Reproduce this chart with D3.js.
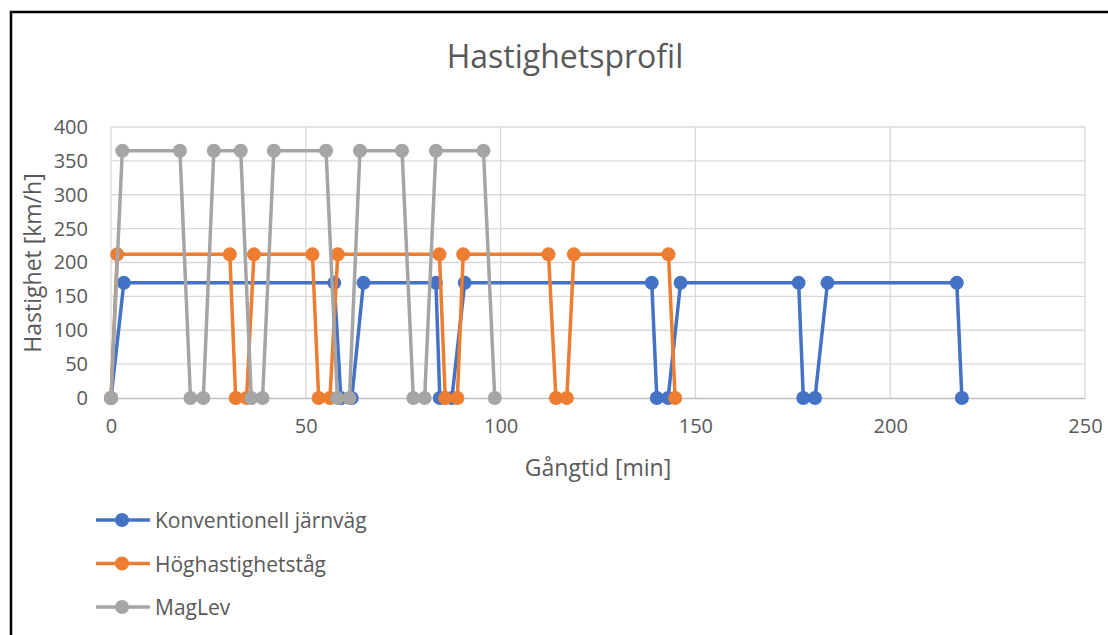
<!DOCTYPE html>
<html>
<head>
<meta charset="utf-8">
<script src="https://cdn.jsdelivr.net/npm/d3@7"></script>
<style>
  html, body { margin: 0; padding: 0; background: #fff; }
  svg { display: block; font-family: "Open Sans", sans-serif; }
</style>
</head>
<body>
<svg id="chart" width="1108" height="635"></svg>
<script>
// Speed profiles: running time (min) against speed (km/h)
const seriesNames = ["Konventionell järnväg", "Höghastighetståg", "MagLev"];
const seriesColors = ["#4472C4", "#ED7D31", "#A5A5A5"];

const konvTime = [0, 3.3, 57.3, 59.0, 61.8, 64.8, 83.4, 84.4, 87.5, 90.8, 138.8, 140.1, 143.0, 146.2, 176.5, 177.7, 180.7, 183.9, 217.1, 218.4];
const konvSpeed = [0, 170, 170, 0, 0, 170, 170, 0, 0, 170, 170, 0, 0, 170, 170, 0, 0, 170, 170, 0];

const hstTime = [0, 1.6, 30.5, 32.0, 34.8, 36.7, 51.7, 53.3, 56.2, 58.2, 84.3, 85.8, 88.9, 90.4, 112.3, 114.2, 117.0, 118.8, 143.1, 144.8];
const hstSpeed = [0, 212, 212, 0, 0, 212, 212, 0, 0, 212, 212, 0, 0, 212, 212, 0, 0, 212, 212, 0];

const maglevTime = [0, 2.9, 17.7, 20.4, 23.7, 26.4, 33.3, 36.0, 38.9, 41.8, 55.2, 58.1, 61.2, 63.9, 74.7, 77.6, 80.5, 83.4, 95.6, 98.5];
const maglevSpeed = [0, 365, 365, 0, 0, 365, 365, 0, 0, 365, 365, 0, 0, 365, 365, 0, 0, 365, 365, 0];

const xTicks = [0, 50, 100, 150, 200, 250];
const yTicks = [0, 50, 100, 150, 200, 250, 300, 350, 400];

const series = [
  { name: seriesNames[0], color: seriesColors[0], pts: konvTime.map((t, i) => [t, konvSpeed[i]]) },
  { name: seriesNames[1], color: seriesColors[1], pts: hstTime.map((t, i) => [t, hstSpeed[i]]) },
  { name: seriesNames[2], color: seriesColors[2], pts: maglevTime.map((t, i) => [t, maglevSpeed[i]]) }
];

const svg = d3.select("#chart");
const textColor = "#595959";

// chart frame
svg.append("rect")
  .attr("x", 11).attr("y", 12)
  .attr("width", 1120).attr("height", 640)
  .attr("fill", "#fff").attr("stroke", "#000").attr("stroke-width", 2.5);

const plot = { left: 111, right: 1085, top: 127, bottom: 398 };
const x = d3.scaleLinear().domain([0, 250]).range([plot.left, plot.right]);
const y = d3.scaleLinear().domain([0, 400]).range([plot.bottom, plot.top]);

// gridlines
const grid = svg.append("g");
grid.selectAll("line.h").data(yTicks.filter(v => v > 0)).join("line")
  .attr("x1", plot.left).attr("x2", plot.right)
  .attr("y1", d => y(d)).attr("y2", d => y(d))
  .attr("stroke", "#d9d9d9").attr("stroke-width", 1.3);
grid.selectAll("line.v").data(xTicks).join("line")
  .attr("x1", d => x(d)).attr("x2", d => x(d))
  .attr("y1", plot.top).attr("y2", plot.bottom)
  .attr("stroke", "#d9d9d9").attr("stroke-width", 1.3);

// axes
const xAxis = svg.append("g").attr("transform", `translate(0,${plot.bottom})`)
  .call(d3.axisBottom(x).tickValues(xTicks).tickSize(0).tickPadding(21));
xAxis.select(".domain").attr("stroke", "#bfbfbf").attr("stroke-width", 1.5);
xAxis.selectAll("text").attr("fill", textColor).attr("font-size", 20).attr("font-family", "Open Sans, sans-serif");

const yAxis = svg.append("g").attr("transform", `translate(${plot.left},0)`)
  .call(d3.axisLeft(y).tickValues(yTicks).tickSize(0).tickPadding(23));
yAxis.select(".domain").remove();
yAxis.selectAll("text").attr("fill", textColor).attr("font-size", 20).attr("font-family", "Open Sans, sans-serif");

// series lines and markers
const line = d3.line().x(d => x(d[0])).y(d => y(d[1]));
series.forEach(s => {
  const g = svg.append("g");
  g.append("path").datum(s.pts).attr("d", line)
    .attr("fill", "none").attr("stroke", s.color)
    .attr("stroke-width", 3.5).attr("stroke-linejoin", "round");
  g.selectAll("circle").data(s.pts).join("circle")
    .attr("cx", d => x(d[0])).attr("cy", d => y(d[1])).attr("r", 7)
    .attr("fill", s.color);
});

// titles
svg.append("text").attr("x", 565).attr("y", 68).attr("text-anchor", "middle")
  .attr("font-size", 32).attr("fill", textColor).text("Hastighetsprofil");
svg.append("text").attr("x", 598).attr("y", 476).attr("text-anchor", "middle")
  .attr("font-size", 23).attr("fill", textColor).text("Gångtid [min]");
svg.append("text").attr("transform", `translate(41,263) rotate(-90)`).attr("text-anchor", "middle")
  .attr("font-size", 23).attr("fill", textColor).text("Hastighet [km/h]");

// legend
const legend = svg.append("g");
series.forEach((s, i) => {
  const ly = 520 + i * 43.5;
  legend.append("line").attr("x1", 96).attr("x2", 150).attr("y1", ly).attr("y2", ly)
    .attr("stroke", s.color).attr("stroke-width", 3.5);
  legend.append("circle").attr("cx", 122).attr("cy", ly).attr("r", 7).attr("fill", s.color);
  legend.append("text").attr("x", 155).attr("y", ly + 8)
    .attr("font-size", 21).attr("fill", textColor).text(s.name);
});
</script>
</body>
</html>
